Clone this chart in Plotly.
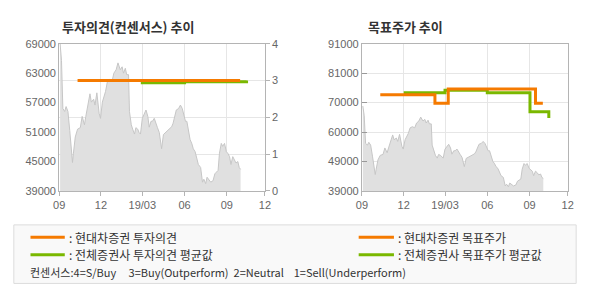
import plotly.graph_objects as go

# ---------------- data ----------------
price_dates = [
    "2018-09-03", "2018-09-06", "2018-09-09", "2018-09-13", "2018-09-16", "2018-09-20", "2018-09-24",
    "2018-09-27", "2018-09-30", "2018-10-02", "2018-10-06", "2018-10-11", "2018-10-17", "2018-10-21",
    "2018-10-26", "2018-10-29", "2018-11-03", "2018-11-07", "2018-11-10", "2018-11-15", "2018-11-18",
    "2018-11-22", "2018-11-27", "2018-11-30", "2018-12-04", "2018-12-07", "2018-12-11", "2018-12-15",
    "2018-12-20", "2018-12-25", "2018-12-29", "2019-01-03", "2019-01-07", "2019-01-12", "2019-01-16",
    "2019-01-19", "2019-01-23", "2019-01-26", "2019-01-30", "2019-02-01", "2019-02-05", "2019-02-08",
    "2019-02-12", "2019-02-15", "2019-02-19", "2019-02-22", "2019-02-25", "2019-03-01", "2019-03-06",
    "2019-03-09", "2019-03-13", "2019-03-16", "2019-03-20", "2019-03-23", "2019-03-27", "2019-03-31",
    "2019-04-03", "2019-04-07", "2019-04-10", "2019-04-12", "2019-04-16", "2019-04-20", "2019-04-23",
    "2019-04-27", "2019-04-30", "2019-05-04", "2019-05-07", "2019-05-11", "2019-05-14", "2019-05-19",
    "2019-05-23", "2019-05-27", "2019-05-30", "2019-06-03", "2019-06-06", "2019-06-10", "2019-06-13",
    "2019-06-17", "2019-06-20", "2019-06-24", "2019-06-28", "2019-07-01", "2019-07-06", "2019-07-10",
    "2019-07-13", "2019-07-17", "2019-07-20", "2019-07-24", "2019-07-28", "2019-08-02", "2019-08-06",
    "2019-08-09", "2019-08-13", "2019-08-16", "2019-08-20", "2019-08-23", "2019-08-27", "2019-08-31",
    "2019-09-03", "2019-09-07", "2019-09-10", "2019-09-14", "2019-09-18", "2019-09-21", "2019-09-25",
    "2019-09-28", "2019-10-01",
]
price_values = [
    69000, 65600, 55800, 55200, 56200, 55200, 51300,
    48000, 44800, 46700, 50000, 51600, 51900, 54200,
    52500, 54200, 57100, 58800, 57100, 57700, 56500,
    59000, 54800, 53800, 57100, 58000, 59300, 61300,
    61700, 61300, 63000, 63700, 65100, 63700, 64300,
    63000, 64000, 62700, 62700, 55200, 52500, 51600,
    50600, 51900, 51600, 50900, 50600, 53800, 54800,
    55500, 54200, 52000, 53200, 53200, 53800, 52500,
    51900, 50900, 49300, 47600, 50500, 50900, 51200,
    51600, 51900, 52100, 52800, 54500, 55500, 55800,
    56500, 55800, 54500, 53200, 53200, 51300, 49500,
    48600, 47600, 47000, 45600, 44400, 43800, 40800,
    41400, 40500, 41800, 41400, 40800, 41100, 42500,
    42800, 43200, 46700, 48700, 48100, 48700, 47000,
    46700, 46000, 44400, 46000, 45400, 44700, 45000,
    43800, 43400,
]

# investment opinion (4=S/Buy, 3=Buy, 2=Neutral, 1=Sell)
opinion_hd_dates = ["2018-10-11", "2019-09-30"]
opinion_hd_values = [3.0, 3.0]
opinion_avg_dates = ["2018-12-01", "2019-03-01", "2019-06-01", "2019-10-14"]
opinion_avg_values = [3.0, 2.94, 2.97, 3.0]

# target price
target_hd_dates = ["2018-10-11", "2019-02-07", "2019-03-08", "2019-09-14", "2019-09-30"]
target_hd_values = [73000, 70000, 75000, 70000, 70000]
target_avg_dates = ["2018-12-01", "2019-03-01", "2019-06-01", "2019-09-02", "2019-10-13"]
target_avg_values = [73700, 74600, 73700, 67000, 64800]

x_tick_dates = ["2018-09-01", "2018-12-01", "2019-03-01", "2019-06-01", "2019-09-01", "2019-11-23"]
x_tick_text = ["09", "12", "19/03", "06", "09", "12"]
x_range = ["2018-09-01", "2019-11-23"]

left_price_ticks = [39000, 45000, 51000, 57000, 63000, 69000]
left_price_ticktext = ["39000", "45000", "51000", "57000", "63000", "69000"]
opinion_ticks = [0, 1, 2, 3, 4]
right_price_tickvals = [39000, 49400, 59800, 70200, 80600, 91000]
right_price_ticktext = ["39000", "49000", "60000", "70000", "81000", "91000"]

title_left = "투자의견(컨센서스) 추이"
title_right = "목표주가 추이"
legend_labels = [": 현대차증권 투자의견", ": 전체증권사 투자의견 평균값",
                 ": 현대차증권 목표주가", ": 전체증권사 목표주가 평균값"]
consensus_note = "컨센서스:4=S/Buy\u00a0\u00a0\u00a0\u00a0 3=Buy(Outperform)\u00a0\u00a02=Neutral\u00a0\u00a0\u00a0 1=Sell(Underperform)"

# ---------------- style ----------------
W, H = 590, 300
ORANGE = "#f57a00"
GREEN = "#7ab800"
GRID = "#e6e6e6"
AXIS = "#b4b4b4"
TICKFONT = dict(family="Liberation Sans, Arial, sans-serif", size=11, color="#666666")
KFONT = "Noto Sans CJK KR, sans-serif"

def px_x(p):
    return p / W

def px_y(p):
    return 1 - p / H

L_X0, L_X1 = 54.3, 264.3
R_X0, R_X1 = 363.3, 573.3
P_Y0, P_Y1 = 39.3, 192.7

fig = go.Figure()

# left chart
fig.add_trace(go.Scatter(x=price_dates, y=price_values, xaxis="x", yaxis="y", mode="lines",
                         line=dict(color="#c6c6c6", width=1), fill="tozeroy", fillcolor="#e0e0e0",
                         hoverinfo="skip"))
fig.add_trace(go.Scatter(x=opinion_avg_dates, y=opinion_avg_values, xaxis="x", yaxis="y2", mode="lines",
                         line=dict(color=GREEN, width=3, shape="hv")))
fig.add_trace(go.Scatter(x=opinion_hd_dates, y=opinion_hd_values, xaxis="x", yaxis="y2", mode="lines",
                         line=dict(color=ORANGE, width=3, shape="hv")))

# right chart
fig.add_trace(go.Scatter(x=price_dates, y=price_values, xaxis="x2", yaxis="y3", mode="lines",
                         line=dict(color="#c6c6c6", width=1), fill="tozeroy", fillcolor="#e0e0e0",
                         hoverinfo="skip"))
fig.add_trace(go.Scatter(x=target_avg_dates, y=target_avg_values, xaxis="x2", yaxis="y3", mode="lines",
                         line=dict(color=GREEN, width=3, shape="hv")))
fig.add_trace(go.Scatter(x=target_hd_dates, y=target_hd_values, xaxis="x2", yaxis="y3", mode="lines",
                         line=dict(color=ORANGE, width=3, shape="hv")))

xcommon = dict(type="date", range=x_range, tickmode="array", tickvals=x_tick_dates, ticktext=x_tick_text,
               showgrid=True, gridcolor=GRID, gridwidth=1, showline=True, linecolor=AXIS, linewidth=1,
               mirror=True, ticks="outside", ticklen=4, tickcolor=AXIS, tickfont=TICKFONT, zeroline=False,
               fixedrange=True)
ydom = [px_y(P_Y1), px_y(P_Y0)]

fig.update_layout(
    width=W, height=H, margin=dict(l=0, r=0, t=0, b=0),
    paper_bgcolor="white", plot_bgcolor="white", showlegend=False,
    xaxis=dict(domain=[px_x(L_X0), px_x(L_X1)], anchor="y", **xcommon),
    yaxis=dict(domain=ydom, anchor="x", range=[39000, 69000], tickmode="array", tickvals=left_price_ticks,
               ticktext=left_price_ticktext,
               showgrid=False, showline=True, linecolor=AXIS, linewidth=1, mirror=True, ticks="",
               tickfont=TICKFONT, zeroline=False, fixedrange=True),
    yaxis2=dict(overlaying="y", side="right", anchor="x", range=[0, 4], tickmode="array",
                tickvals=opinion_ticks, showgrid=True, gridcolor=GRID, showline=True, linecolor=AXIS,
                ticks="outside", ticklen=4, tickcolor=AXIS, tickfont=TICKFONT, zeroline=False,
                fixedrange=True),
    xaxis2=dict(domain=[px_x(R_X0), px_x(R_X1)], anchor="y3", **xcommon),
    yaxis3=dict(domain=ydom, anchor="x2", range=[39000, 91000], tickmode="array",
                tickvals=right_price_tickvals, ticktext=right_price_ticktext, showgrid=True, gridcolor=GRID,
                showline=True, linecolor=AXIS, linewidth=1, mirror=True, ticks="inside", ticklen=5,
                tickcolor="#999999", tickfont=TICKFONT, zeroline=False, fixedrange=True),
)

shapes = []
annotations = []

# titles
annotations.append(dict(xref="paper", yref="paper", x=px_x(55), y=px_y(21), xanchor="left", yanchor="middle",
                        text="<b>" + title_left + "</b>", showarrow=False,
                        font=dict(family=KFONT, size=13, color="#333333")))
annotations.append(dict(xref="paper", yref="paper", x=px_x(367), y=px_y(21), xanchor="left", yanchor="middle",
                        text="<b>" + title_right + "</b>", showarrow=False,
                        font=dict(family=KFONT, size=13, color="#333333")))

# legend box
shapes.append(dict(type="rect", xref="paper", yref="paper", x0=px_x(8), x1=px_x(582), y0=px_y(289),
                   y1=px_y(228), fillcolor="#f9f9f9", line=dict(color="#dcdcdc", width=1), layer="below"))
legend_items = [
    (25, 60, 241, ORANGE, legend_labels[0]),
    (25, 60, 259, GREEN, legend_labels[1]),
    (360, 396, 241, ORANGE, legend_labels[2]),
    (360, 396, 259, GREEN, legend_labels[3]),
]
for x0, x1, yy, col, lab in legend_items:
    shapes.append(dict(type="line", xref="paper", yref="paper", x0=px_x(x0), x1=px_x(x1), y0=px_y(yy),
                       y1=px_y(yy), line=dict(color=col, width=3)))
    annotations.append(dict(xref="paper", yref="paper", x=px_x(x1 + 2), y=px_y(yy), xanchor="left",
                            yanchor="middle", text=lab, showarrow=False,
                            font=dict(family=KFONT, size=12, color="#333333")))
annotations.append(dict(xref="paper", yref="paper", x=px_x(22), y=px_y(277), xanchor="left", yanchor="middle",
                        text=consensus_note, showarrow=False,
                        font=dict(family=KFONT, size=11, color="#333333")))

fig.update_layout(shapes=shapes, annotations=annotations)
fig.write_html("out.html")
